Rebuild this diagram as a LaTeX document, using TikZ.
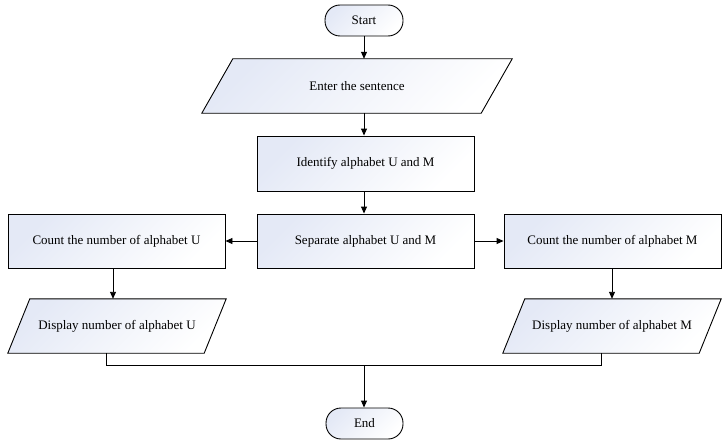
\documentclass[tikz,border=0pt]{standalone}
\usepackage{fontspec}
\setmainfont{Liberation Serif}
\usetikzlibrary{arrows.meta,backgrounds}
\definecolor{fillc}{HTML}{E4E9F6}
\begin{document}
\begin{tikzpicture}[x=1pt,y=-1pt,
  shade/.style={draw=black,line width=0.9pt,top color=fillc,bottom color=white,shading angle=45},
  txt/.style={font=\fontsize{13}{15}\selectfont,inner sep=0pt},
  base/.style={shade,txt},
  term/.style={base,rounded corners=15pt,minimum width=78pt,minimum height=31pt},
  proc/.style={base,rectangle,minimum width=217pt,minimum height=54pt},
  io/.style={txt,rectangle,minimum height=54pt},
  conn/.style={line width=0.9pt,-{Triangle[length=7pt,width=6pt]}},
  plain/.style={line width=0.9pt}]
\useasboundingbox (0,0) rectangle (728,444);
\node[term] (start) at (364,20.5) {Start};
\node[io,minimum width=310pt] (enter) at (357,86) {Enter the sentence};
\node[proc,minimum height=55pt] (ident) at (365.5,163.5) {Identify alphabet U and M};
\node[proc] (sep) at (365.5,241) {Separate alphabet U and M};
\node[proc] (cu) at (116.5,241) {Count the number of alphabet U};
\node[proc] (cm) at (612.5,241) {Count the number of alphabet M};
\node[io,minimum width=218pt] (du) at (117,326) {Display number of alphabet U};
\node[io,minimum width=218pt] (dm) at (612,326) {Display number of alphabet M};
\node[term,minimum width=77pt] (end) at (364.5,423.5) {End};
\begin{scope}[on background layer]
\path[shade] (enter.south west) -- ([xshift=-31pt]enter.south east) -- (enter.north east) -- ([xshift=31pt]enter.north west) -- cycle;
\path[shade] (du.south west) -- ([xshift=-22pt]du.south east) -- (du.north east) -- ([xshift=22pt]du.north west) -- cycle;
\path[shade] (dm.south west) -- ([xshift=-22pt]dm.south east) -- (dm.north east) -- ([xshift=22pt]dm.north west) -- cycle;
\end{scope}
\coordinate (mrg) at (364,365);
\coordinate (xc) at (364,0);
\coordinate (xu) at (113,0);
\coordinate (xm) at (612,0);
\draw[conn] (start.south -| xc) -- (enter.north -| xc);
\draw[conn] (enter.south -| xc) -- (ident.north -| xc);
\draw[conn] (ident.south -| xc) -- (sep.north -| xc);
\draw[conn] (sep.west) -- (cu.east);
\draw[conn] (sep.east) -- (cm.west);
\draw[conn] (cu.south -| xu) -- (du.north -| xu);
\draw[conn] (cm.south -| xm) -- (dm.north -| xm);
\draw[plain] ([xshift=-11pt]du.south) |- (mrg);
\draw[plain] ([xshift=-11pt]dm.south) |- (mrg);
\draw[conn] (mrg) -- (end.north -| mrg);
\end{tikzpicture}
\end{document}
